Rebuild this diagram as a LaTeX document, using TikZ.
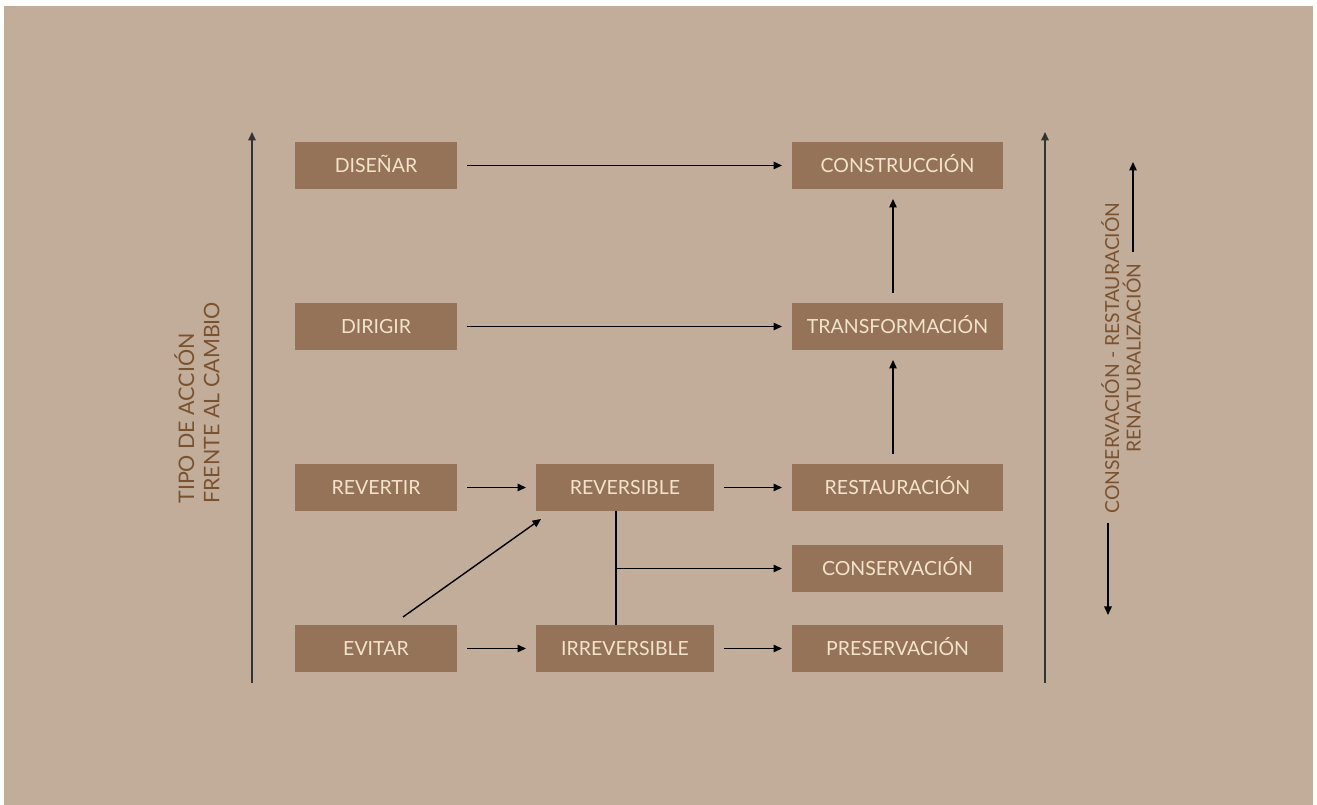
\documentclass[tikz,border=0pt]{standalone}
\usepackage{fontspec}
\setmainfont{Lato}
\usetikzlibrary{arrows.meta}
\usetikzlibrary{positioning}
\definecolor{paper}{HTML}{C2AD9A}
\definecolor{boxbrown}{HTML}{957358}
\definecolor{boxtext}{HTML}{F3E3CA}
\definecolor{labelbrown}{HTML}{7A5230}
\newcommand{\stepcolor}[0]{boxbrown}
\newcommand{\steptextcolor}[0]{boxtext}

\tikzset{
    stepbox/.style={rectangle, fill=\stepcolor, text=\steptextcolor, minimum height=0.94cm,
        inner sep=0pt, outer sep=0pt, text height=7.8pt, text depth=0pt,
        font=\fontsize{11.1}{12}\selectfont},
    actionbox/.style={stepbox, minimum width=3.24cm},
    statebox/.style={stepbox, minimum width=3.56cm},
    resultbox/.style={stepbox, minimum width=4.22cm},
    flow/.style={-{Triangle[length=0.17cm,width=0.15cm]}, line width=0.8pt,
        shorten <=0.2cm, shorten >=0.2cm},
    link/.style={line width=0.8pt},
    axis/.style={-{Triangle[length=0.17cm,width=0.15cm]}, line width=1pt, draw=black!80},
    axislabel/.style={rotate=90, text=labelbrown, inner sep=0pt}
}

\begin{document}
\begin{tikzpicture}
    \fill[white] (0,0) rectangle (26.34,16.1);
    \fill[paper] (0.08,0) rectangle (26.26,15.98);

    % actions
    \node[actionbox] at (7.52,12.79)
        (disenar) {DISEÑAR};
    \node[actionbox, below=2.28cm of disenar]
        (dirigir) {DIRIGIR};
    \node[actionbox, below=2.28cm of dirigir]
        (revertir) {REVERTIR};
    \node[actionbox, below=2.28cm of revertir]
        (evitar) {EVITAR};
    % states
    \node[statebox, right=1.58cm of revertir]
        (reversible) {REVERSIBLE};
    \node[statebox, right=1.58cm of evitar]
        (irreversible) {IRREVERSIBLE};
    % results
    \node[resultbox, right=1.56cm of reversible]
        (restauracion) {RESTAURACIÓN};
    \node[resultbox, right=1.56cm of irreversible]
        (preservacion) {PRESERVACIÓN};
    \node[resultbox, above=0.66cm of preservacion]
        (conservacion) {CONSERVACIÓN};
    \node[resultbox, above=2.28cm of restauracion]
        (transformacion) {TRANSFORMACIÓN};
    \node[resultbox, above=2.28cm of transformacion]
        (construccion) {CONSTRUCCIÓN};

    \draw[flow] (disenar) -- (construccion);
    \draw[flow] (dirigir) -- (transformacion);
    \draw[flow] (revertir) -- (reversible);
    \draw[flow] (reversible) -- (restauracion);
    \draw[flow] (evitar) -- (irreversible);
    \draw[flow] (irreversible) -- (preservacion);
    \draw[flow] ([xshift=-0.09cm]restauracion.north) -- ([xshift=-0.09cm]transformacion.south);
    \draw[flow] ([xshift=-0.09cm]transformacion.north) -- ([xshift=-0.09cm]construccion.south);
    \draw[flow, shorten <=0pt, shorten >=0pt]
        ([xshift=0.54cm, yshift=0.16cm]evitar.north) -- ([xshift=0.1cm, yshift=-0.16cm]reversible.south west);

    \coordinate (branch) at ([xshift=-0.18cm]reversible.south);
    \draw[link] (branch) -- (branch |- irreversible.north);
    \draw[flow, shorten <=0pt] (branch |- conservacion.west) -- (conservacion.west);

    % axes
    \coordinate (actionlow) at (5.04,2.44);
    \coordinate (actionhigh) at (5.04,13.46);
    \coordinate (resultlow) at (20.9,2.44);
    \coordinate (resulthigh) at (20.9,13.46);
    \draw[axis] (actionlow) -- (actionhigh);
    \draw[axis] (resultlow) -- (resulthigh);

    \node[axislabel, align=left, anchor=west, font=\fontsize{12.2}{14.4}\selectfont] at (3.94,6.02)
        (actionlabel) {TIPO DE ACCIÓN\\FRENTE AL CAMBIO};
    \node[axislabel, align=center, font=\fontsize{11}{12.3}\selectfont] at (22.42,8.94)
        (resultlabel) {CONSERVACIÓN - RESTAURACIÓN\\RENATURALIZACIÓN};

    \coordinate (upfrom) at (22.66,11.06);
    \coordinate (upto) at (22.66,12.86);
    \coordinate (downfrom) at (22.16,5.64);
    \coordinate (downto) at (22.16,3.8);
    \draw[flow, shorten <=0pt, shorten >=0pt] (upfrom) -- (upto);
    \draw[flow, shorten <=0pt, shorten >=0pt] (downfrom) -- (downto);
\end{tikzpicture}
\end{document}
